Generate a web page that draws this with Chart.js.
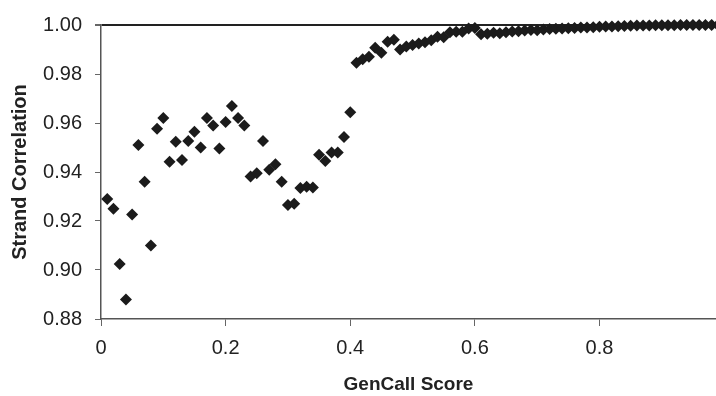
<!DOCTYPE html>
<html>
<head>
<meta charset="utf-8">
<script src="https://cdn.jsdelivr.net/npm/chart.js@4.4.1/dist/chart.umd.min.js"></script>
<style>
  html, body { margin: 0; padding: 0; background: #fff; }
  #wrap { width: 716px; height: 396px; }
</style>
</head>
<body>
<div id="wrap"><canvas id="corrChart"></canvas></div>
<script>
// GenCall score (x) for each point
const scores = [
  0.01, 0.02, 0.03, 0.04, 0.05, 0.06, 0.07, 0.08, 0.09, 0.10,
  0.11, 0.12, 0.13, 0.14, 0.15, 0.16, 0.17, 0.18, 0.19, 0.20,
  0.21, 0.22, 0.23, 0.24, 0.25, 0.26, 0.27, 0.28, 0.29, 0.30,
  0.31, 0.32, 0.33, 0.34, 0.35, 0.36, 0.37, 0.38, 0.39, 0.40,
  0.41, 0.42, 0.43, 0.44, 0.45, 0.46, 0.47, 0.48, 0.49, 0.50,
  0.51, 0.52, 0.53, 0.54, 0.55, 0.56, 0.57, 0.58, 0.59, 0.60,
  0.61, 0.62, 0.63, 0.64, 0.65, 0.66, 0.67, 0.68, 0.69, 0.70,
  0.71, 0.72, 0.73, 0.74, 0.75, 0.76, 0.77, 0.78, 0.79, 0.80,
  0.81, 0.82, 0.83, 0.84, 0.85, 0.86, 0.87, 0.88, 0.89, 0.90,
  0.91, 0.92, 0.93, 0.94, 0.95, 0.96, 0.97, 0.98, 0.99
];

// strand correlation
const correlation = [
  0.9290, 0.9250, 0.9025, 0.8880, 0.9227, 0.9510, 0.9360, 0.9100, 0.9577, 0.9620,
  0.9442, 0.9523, 0.9449, 0.9527, 0.9564, 0.9500, 0.9620, 0.9590, 0.9496, 0.9604,
  0.9669, 0.9620, 0.9590, 0.9382, 0.9395, 0.9527, 0.9409, 0.9432, 0.9360, 0.9265,
  0.9270, 0.9335, 0.9340, 0.9337, 0.9470, 0.9445, 0.9480, 0.9480, 0.9543, 0.9644,
  0.9846, 0.9860, 0.9870, 0.9907, 0.9887, 0.9932, 0.9940, 0.9900, 0.9912, 0.9918,
  0.9924, 0.9930, 0.9938, 0.9952, 0.9950, 0.9970, 0.9972, 0.9972, 0.9986, 0.9988,
  0.9962, 0.9964, 0.9968, 0.9966, 0.9970, 0.9973, 0.9974, 0.9978, 0.9980, 0.9979,
  0.9982, 0.9984, 0.9985, 0.9986, 0.9987, 0.9988, 0.9990, 0.9990, 0.9991, 0.9993,
  0.9994, 0.9994, 0.9995, 0.9996, 0.9997, 0.9998, 0.9998, 0.9998, 0.9999, 0.9999,
  0.9999, 0.9999, 1.0000, 1.0000, 1.0000, 1.0000, 1.0000, 1.0000, 1.0000
];

const xTickValues = [0, 0.2, 0.4, 0.6, 0.8];
const yTickValues = [0.88, 0.90, 0.92, 0.94, 0.96, 0.98, 1.00];

const points = scores.map((s, i) => ({ x: s, y: correlation[i] }));

const tickFont = { family: "'Liberation Sans', Arial, sans-serif", size: 20 };
const titleFont = { family: "'Liberation Sans', Arial, sans-serif", size: 19, weight: "bold" };

new Chart(document.getElementById("corrChart"), {
  type: "scatter",
  data: {
    datasets: [{
      data: points,
      pointStyle: "rectRot",
      pointRadius: 6,
      pointHoverRadius: 6,
      backgroundColor: "#1b1b1b",
      borderColor: "#1b1b1b",
      borderWidth: 0,
      clip: false
    }]
  },
  options: {
    responsive: true,
    maintainAspectRatio: false,
    animation: false,
    layout: { autoPadding: false, padding: { top: 22, right: 0, left: 0, bottom: 0 } },
    plugins: { legend: { display: false }, tooltip: { enabled: false } },
    scales: {
      x: {
        type: "linear",
        min: 0,
        max: 0.987,
        afterBuildTicks: scale => { scale.ticks = xTickValues.map(v => ({ value: v })); },
        afterFit: scale => { scale.height = 77; },
        ticks: {
          font: tickFont,
          color: "#222",
          padding: 10,
          maxRotation: 0,
          callback: v => (v === 0 ? "0" : v.toFixed(1))
        },
        grid: { display: true, drawOnChartArea: false, tickLength: 7, tickColor: "#666", tickWidth: 1 },
        border: { display: true, color: "#555", width: 1.5 },
        title: { display: true, text: "GenCall Score", font: titleFont, color: "#222", padding: { top: 0, bottom: 0 } }
      },
      y: {
        min: 0.88,
        max: 1.0,
        afterBuildTicks: scale => { scale.ticks = yTickValues.map(v => ({ value: v })); },
        afterFit: scale => { scale.width = 101; },
        ticks: {
          font: tickFont,
          color: "#222",
          padding: 13,
          callback: v => v.toFixed(2)
        },
        grid: {
          drawOnChartArea: true,
          tickLength: 6,
          tickColor: "#666",
          color: ctx => (ctx.tick && Math.abs(ctx.tick.value - 1) < 1e-9 ? "#222" : "rgba(0,0,0,0)"),
          lineWidth: ctx => (ctx.tick && Math.abs(ctx.tick.value - 1) < 1e-9 ? 2 : 1)
        },
        border: { display: true, color: "#555", width: 1.5 },
        title: { display: true, text: "Strand Correlation", font: { ...titleFont, size: 20 }, color: "#222", padding: { top: 8, bottom: 0 } }
      }
    }
  }
});
</script>
</body>
</html>
